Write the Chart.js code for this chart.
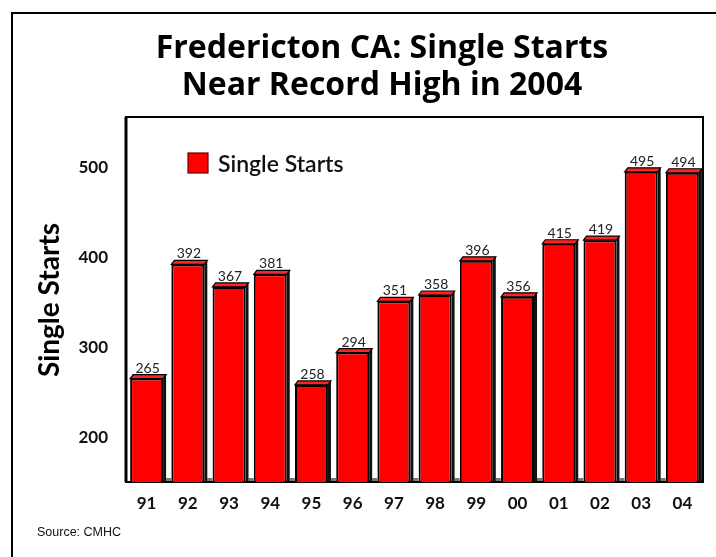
<!DOCTYPE html>
<html>
<head>
<meta charset="utf-8">
<script src="https://cdn.jsdelivr.net/npm/chart.js@4/dist/chart.umd.min.js"></script>
<style>
  html, body { margin: 0; padding: 0; background: #fff; }
  #wrap { width: 716px; height: 557px; position: relative; }
</style>
</head>
<body>
<div id="wrap"><canvas id="startsChart" width="716" height="557"></canvas></div>
<script>
// chart data
const years = ['91', '92', '93', '94', '95', '96', '97', '98', '99', '00', '01', '02', '03', '04'];
const singleStarts = [265, 392, 367, 381, 258, 294, 351, 358, 396, 356, 415, 419, 495, 494];
const yTicks = [200, 300, 400, 500];
const titleLines = ['Fredericton CA: Single Starts', 'Near Record High in 2004'];

const FONT = 'Lato, "Open Sans", sans-serif';

// frame, titles, legend, source and the 3D depth of the bars
const decorPlugin = {
  id: 'decor',
  beforeDraw(chart) {
    const ctx = chart.ctx;
    ctx.save();
    ctx.fillStyle = '#fff';
    ctx.fillRect(0, 0, chart.width, chart.height);

    // outer frame, top and left only
    ctx.strokeStyle = '#000';
    ctx.lineWidth = 2;
    ctx.beginPath();
    ctx.moveTo(12, chart.height);
    ctx.lineTo(12, 13);
    ctx.lineTo(chart.width, 13);
    ctx.stroke();

    ctx.fillStyle = '#000';
    ctx.textAlign = 'center';
    ctx.textBaseline = 'alphabetic';
    ctx.font = 'bold 32px "Open Sans", sans-serif';
    ctx.fillText(titleLines[0], 382, 58);
    ctx.fillText(titleLines[1], 382, 95);

    // y axis title
    ctx.save();
    ctx.translate(50, 300);
    ctx.rotate(-Math.PI / 2);
    ctx.textBaseline = 'middle';
    ctx.font = 'bold 28px ' + FONT;
    ctx.fillText('Single Starts', 0, 0);
    ctx.restore();

    ctx.textAlign = 'left';
    ctx.textBaseline = 'middle';
    ctx.font = '12.5px "Liberation Sans", Arial, sans-serif';
    ctx.fillStyle = '#111';
    ctx.fillText('Source: CMHC', 37, 533);
    ctx.restore();
  },
  beforeDatasetsDraw(chart) {
    const ctx = chart.ctx;
    const a = chart.chartArea;
    ctx.save();
    ctx.strokeStyle = '#000';
    ctx.lineWidth = 2;
    ctx.strokeRect(a.left, a.top, a.right - a.left, a.bottom - a.top);
    ctx.lineWidth = 3;
    ctx.beginPath();
    ctx.moveTo(a.left, a.top);
    ctx.lineTo(a.left, a.bottom);
    ctx.stroke();

    // legend inside the plot
    ctx.fillStyle = '#ff0000';
    ctx.fillRect(188, 153, 20, 20);
    ctx.strokeStyle = '#600';
    ctx.lineWidth = 1.2;
    ctx.strokeRect(188, 153, 20, 20);
    ctx.fillStyle = '#111';
    ctx.textAlign = 'left';
    ctx.textBaseline = 'middle';
    ctx.font = '600 23px ' + FONT;
    ctx.fillText('Single Starts', 218, 165);

    // depth of each bar: top sliver, dark right side, floor mark in the gap
    const dx = 3, dy = 4;
    const bars = chart.getDatasetMeta(0).data;
    bars.forEach((bar, i) => {
      const l = bar.x - bar.width / 2, r = bar.x + bar.width / 2;
      const t = bar.y, b = Math.min(bar.base, a.bottom);
      if (i < bars.length - 1) {
        ctx.fillStyle = '#777';
        ctx.fillRect(r + dx, b - 4, 5, 3);
      }
      ctx.fillStyle = '#111';
      ctx.beginPath();
      ctx.moveTo(r, t);
      ctx.lineTo(r + dx, t - dy);
      ctx.lineTo(r + dx, b - 1);
      ctx.lineTo(r, b);
      ctx.closePath();
      ctx.fill();
      ctx.fillStyle = '#f22';
      ctx.strokeStyle = '#000';
      ctx.lineWidth = 1.2;
      ctx.beginPath();
      ctx.moveTo(l, t);
      ctx.lineTo(l + dx, t - dy);
      ctx.lineTo(r + dx, t - dy);
      ctx.lineTo(r, t);
      ctx.closePath();
      ctx.fill();
      ctx.stroke();
    });
    ctx.restore();
  },
  afterDatasetsDraw(chart) {
    const ctx = chart.ctx;
    ctx.save();
    ctx.fillStyle = '#222';
    ctx.textAlign = 'center';
    ctx.textBaseline = 'alphabetic';
    ctx.font = '14px ' + FONT;
    chart.getDatasetMeta(0).data.forEach((bar, i) => {
      ctx.fillText(String(singleStarts[i]), bar.x + 1, bar.y - 6);
    });
    ctx.restore();
  }
};

new Chart(document.getElementById('startsChart').getContext('2d'), {
  type: 'bar',
  data: {
    labels: years,
    datasets: [{
      label: 'Single Starts',
      data: singleStarts,
      backgroundColor: '#ff0000',
      borderColor: '#000',
      borderWidth: 2,
      borderSkipped: false,
      barPercentage: 0.8,
      categoryPercentage: 1.0
    }]
  },
  options: {
    responsive: false,
    animation: false,
    devicePixelRatio: 1,
    layout: { padding: { top: 117, right: 13, left: 0, bottom: 0 } },
    plugins: {
      legend: { display: false },
      title: { display: false },
      tooltip: { enabled: false }
    },
    scales: {
      x: {
        grid: { display: false, drawTicks: false },
        border: { display: false },
        ticks: {
          color: '#111',
          padding: 11,
          font: { family: FONT, size: 17, weight: 'bold' }
        },
        afterFit(scale) { scale.height = 75; }
      },
      y: {
        min: 150,
        max: 556,
        beginAtZero: false,
        grid: { display: false, drawTicks: false },
        border: { display: false },
        afterBuildTicks(scale) { scale.ticks = yTicks.map(v => ({ value: v })); },
        ticks: {
          color: '#111',
          padding: 18,
          font: { family: FONT, size: 17, weight: 'bold' }
        },
        afterFit(scale) { scale.width = 126; }
      }
    }
  },
  plugins: [decorPlugin]
});
</script>
</body>
</html>
